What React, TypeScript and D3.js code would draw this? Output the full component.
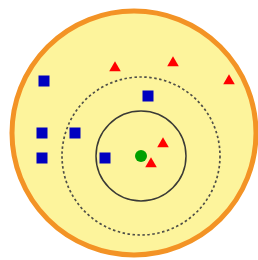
import React, { useEffect, useRef } from 'react';
import * as d3 from 'd3';

// query point sits at (0,0); everything else is an offset from it (y up)
const queryPoint = [0, 0];
const classA = [[-26, 88], [32, 93], [88, 75], [22, 12], [10, -8]]; // red triangles
const classB = [[-97, 75], [7, 60], [-99, 23], [-66, 23], [-99, -2], [-36, -2]]; // blue squares
const neighbourRadii = [45, 79]; // k=3 solid, k=5 dashed
const boundary = { cx: -7, cy: 23, r: 122 };

const App = () => {
  const ref = useRef(null);

  useEffect(() => {
    const svg = d3.select(ref.current);
    svg.selectAll('*').remove();

    const width = 258, height = 260;
    // 1 unit = 1 px
    const x = d3.scaleLinear().domain([-141, 117]).range([0, width]);
    const y = d3.scaleLinear().domain([156, -104]).range([0, height]);
    const len = (v) => x(v) - x(0);

    svg.append('circle')
      .attr('cx', x(boundary.cx))
      .attr('cy', y(boundary.cy))
      .attr('r', len(boundary.r))
      .attr('fill', '#fdf49c')
      .attr('stroke', '#f39325')
      .attr('stroke-width', 5);

    // k circles
    svg.selectAll('.kcircle')
      .data(neighbourRadii)
      .enter().append('circle')
      .attr('cx', x(queryPoint[0]))
      .attr('cy', y(queryPoint[1]))
      .attr('r', d => len(d))
      .attr('fill', 'none')
      .attr('stroke', (d, i) => i === 0 ? '#3a3a36' : '#4f4f48')
      .attr('stroke-width', (d, i) => i === 0 ? 1.5 : 1.7)
      .attr('stroke-dasharray', (d, i) => i === 0 ? null : '2.5,2.5');

    // blue squares
    const s = 11;
    svg.selectAll('.sq')
      .data(classB)
      .enter().append('rect')
      .attr('x', d => x(d[0]) - s / 2)
      .attr('y', d => y(d[1]) - s / 2)
      .attr('width', s)
      .attr('height', s)
      .attr('fill', '#0000c0');

    // red triangles
    const tri = d3.symbol().type(d3.symbolTriangle).size(58);
    svg.selectAll('.tri')
      .data(classA)
      .enter().append('path')
      .attr('d', tri)
      .attr('transform', d => 'translate(' + x(d[0]) + ',' + y(d[1]) + ')')
      .attr('fill', '#ff0000');

    // query point
    svg.append('circle')
      .attr('cx', x(queryPoint[0]))
      .attr('cy', y(queryPoint[1]))
      .attr('r', 6)
      .attr('fill', '#00a000');
  }, []);

  return (
    <svg ref={ref} width={258} height={260}
      style={{ position: 'absolute', left: 0, top: 0, background: '#fff' }} />
  );
};

export default App;
